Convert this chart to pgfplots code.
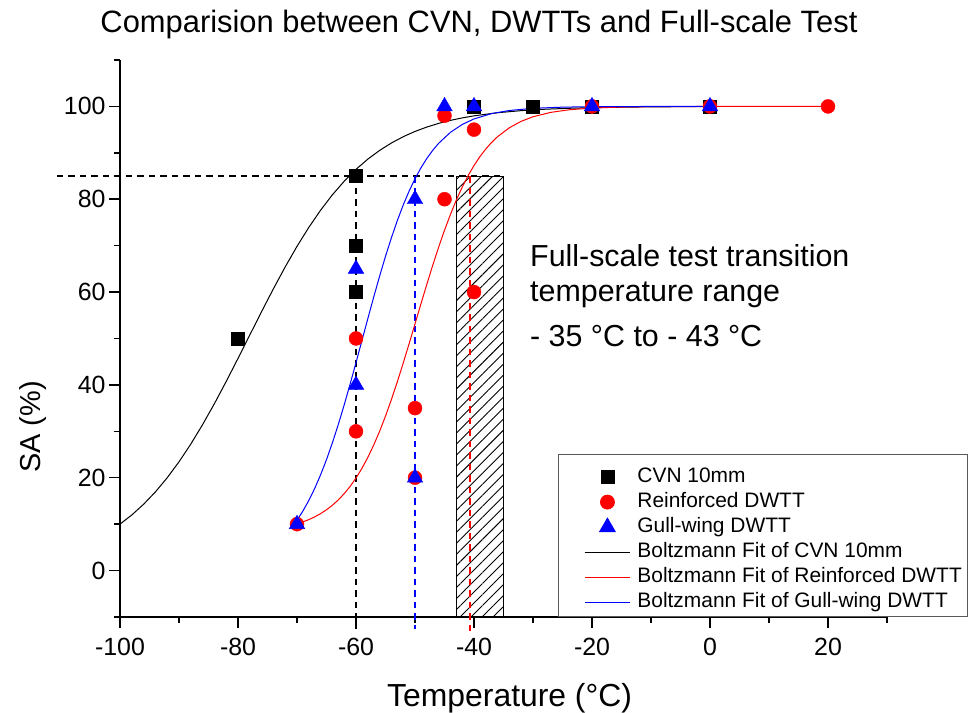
\documentclass[border=0pt]{standalone}
\usepackage{fontspec}
\setmainfont{Liberation Sans}
\usepackage{pgfplots}
\pgfplotsset{compat=1.18}
\usetikzlibrary{patterns.meta}
\pgfplotsset{
  mylineleg/.style={legend image code/.code={\path (-22bp,0bp) (50bp,0bp); \draw[##1] (0bp,0bp) -- (45bp,0bp);}},
  mymarkleg/.style={legend image code/.code={\path (-22bp,0bp) (50bp,0bp); \draw[##1] plot coordinates {(22.5bp,0bp)};}},
  mymarklegfirst/.style={legend image code/.code={\path (-22bp,0bp) (50bp,0bp) (0bp,19bp); \draw[##1] plot coordinates {(22.5bp,0bp)};}},
}
\begin{document}
\begin{tikzpicture}
\useasboundingbox (0,0) rectangle (969bp,713bp);
\begin{axis}[
  at={(120bp,96bp)}, anchor=south west,
  scale only axis, width=767bp, height=557bp,
  xmin=-100, xmax=30, ymin=-10, ymax=110,
  axis lines*=left,
  axis line style={line width=1.5bp, black},
  tick align=outside,
  major tick length=11bp, minor tick length=6bp,
  tick style={line width=1.5bp, black},
  xtick={-100,-80,-60,-40,-20,0,20}, xticklabels={-100,-80,-60,-40,-20,0,20},
  minor xtick={-90,-70,-50,-30,-10,10,30},
  ytick={0,20,40,60,80,100}, yticklabels={0,20,40,60,80,100},
  minor ytick={-10,10,30,50,70,90,110},
  tick label style={font=\fontsize{25}{29}\selectfont},
  xticklabel style={yshift=-7bp},
  clip=false,
  title={Comparision between CVN, DWTTs and Full-scale Test},
  title style={font=\fontsize{31}{37}\selectfont, at={(rel axis cs:0.468,1.039)}, anchor=base},
  xlabel={Temperature (°C)},
  xlabel style={font=\fontsize{32}{38}\selectfont, at={(rel axis cs:0.508,-0.161)}, anchor=base},
  ylabel={SA (\%)},
  ylabel style={font=\fontsize{29}{34}\selectfont, at={(rel axis cs:-0.1043,0.341)}, anchor=base},
  legend style={at={(rel axis cs:0.5711,0)}, anchor=south west, draw=gray!70!black, line width=0.8bp,
    font=\fontsize{21}{25}\selectfont, inner xsep=4bp, inner ysep=3bp, row sep=2bp,
    nodes={inner sep=2bp, text height=14.5bp, text depth=4.5bp}},
  legend cell align=left,
]
% full-scale transition range
\addplot[forget plot, draw=black, line width=1bp, pattern={Lines[angle=45,distance=7.8bp,line width=0.9bp]}, pattern color=black]
  coordinates {(-43,-10) (-35,-10) (-35,85) (-43,85) (-43,-10)};
% guide lines
\addplot[forget plot, black, dash pattern=on 6.5bp off 5bp, line width=1.5bp] coordinates {(-110.7,85) (-35,85)};
\addplot[forget plot, black, dash pattern=on 6.5bp off 5bp, line width=1.5bp] coordinates {(-60,85) (-60,-12.5)};
\addplot[forget plot, blue, dash pattern=on 6.5bp off 5bp, line width=1.5bp] coordinates {(-50,85) (-50,-12.5)};
\addplot[forget plot, red, dash pattern=on 6.5bp off 5bp, line width=1.5bp] coordinates {(-40.7,85) (-40.7,-13)};
% Boltzmann fits
\addplot[forget plot, black, line width=1bp] coordinates {
(-100,10.01) (-98,11.98) (-96,14.29) (-94,16.95) (-92,20.00) (-90,23.43) (-88,27.25) (-86,31.45)
(-84,35.96) (-82,40.74) (-80,45.71) (-78,50.76) (-76,55.79) (-74,60.71) (-72,65.42) (-70,69.85)
(-68,73.93) (-66,77.64) (-64,80.96) (-62,83.88) (-60,86.44) (-58,88.64) (-56,90.52) (-54,92.12)
(-52,93.47) (-50,94.61) (-48,95.55) (-46,96.34) (-44,96.99) (-42,97.52) (-40,97.97) (-36,98.64)
(-32,99.09) (-28,99.39) (-24,99.59) (-20,99.73) (-14,99.85) (-8,99.92) (0,99.96)};
\addplot[forget plot, red, line width=1bp] coordinates {
(-70,10.08) (-69,10.49) (-68,10.98) (-67,11.57) (-66,12.27) (-65,13.10) (-64,14.07) (-63,15.22)
(-62,16.57) (-61,18.13) (-60,19.94) (-59,22.01) (-58,24.38) (-57,27.04) (-56,30.01) (-55,33.28)
(-54,36.85) (-53,40.66) (-52,44.69) (-51,48.87) (-50,53.14) (-49,57.43) (-48,61.65) (-47,65.75)
(-46,69.66) (-45,73.32) (-44,76.71) (-43,79.81) (-42,82.60) (-41,85.08) (-40,87.26) (-39,89.18)
(-38,90.83) (-37,92.26) (-36,93.49) (-34,95.41) (-32,96.79) (-30,97.77) (-27,98.71) (-24,99.26)
(-20,99.65) (-15,99.86) (-10,99.95) (0,99.99) (10,100) (20,100)};
\addplot[forget plot, blue, line width=1bp] coordinates {
(-70,10.85) (-69,12.83) (-68,15.10) (-67,17.70) (-66,20.63) (-65,23.91) (-64,27.53) (-63,31.48)
(-62,35.70) (-61,40.17) (-60,44.80) (-59,49.53) (-58,54.26) (-57,58.92) (-56,63.42) (-55,67.70)
(-54,71.70) (-53,75.39) (-52,78.74) (-51,81.75) (-50,84.41) (-49,86.75) (-48,88.78) (-47,90.53)
(-46,92.04) (-44,94.41) (-42,96.11) (-40,97.30) (-37,98.46) (-34,99.12) (-30,99.59) (-25,99.84)
(-20,99.94) (-10,99.99) (0,100)};
% measured points
\addplot[only marks, mark=square*, mark size=6.5bp, black, mymarklegfirst] coordinates {
(-80,50) (-60,85) (-60,70) (-60,60) (-40,100) (-30,100) (-20,100) (0,100)};
\addlegendentry{CVN 10mm}
\addplot[only marks, mark=*, mark size=7bp, red, mymarkleg] coordinates {
(-70,10) (-60,50) (-60,30) (-50,35) (-50,20) (-45,80) (-45,98) (-40,95) (-40,60) (-20,100) (0,100) (20,100)};
\addlegendentry{Reinforced DWTT}
\addplot[only marks, mark=triangle*, mark size=9bp, blue, mymarkleg] coordinates {
(-70,10) (-60,65) (-60,40) (-50,80) (-50,20) (-45,100) (-40,100) (-20,100) (0,100)};
\addlegendentry{Gull-wing DWTT}
\addlegendimage{draw=black, line width=1bp, mylineleg}
\addlegendentry{Boltzmann Fit of CVN 10mm}
\addlegendimage{draw=red, line width=1bp, mylineleg}
\addlegendentry{Boltzmann Fit of Reinforced DWTT}
\addlegendimage{draw=blue, line width=1bp, mylineleg}
\addlegendentry{Boltzmann Fit of Gull-wing DWTT}
\end{axis}
\node[anchor=base west, font=\fontsize{30.5}{36}\selectfont, inner sep=0pt] at (530bp,446bp) {Full-scale test transition};
\node[anchor=base west, font=\fontsize{30.5}{36}\selectfont, inner sep=0pt] at (530bp,411bp) {temperature range};
\node[anchor=base west, font=\fontsize{30.5}{36}\selectfont, inner sep=0pt] at (530bp,366bp) {- 35 °C to - 43 °C};
\end{tikzpicture}
\end{document}
